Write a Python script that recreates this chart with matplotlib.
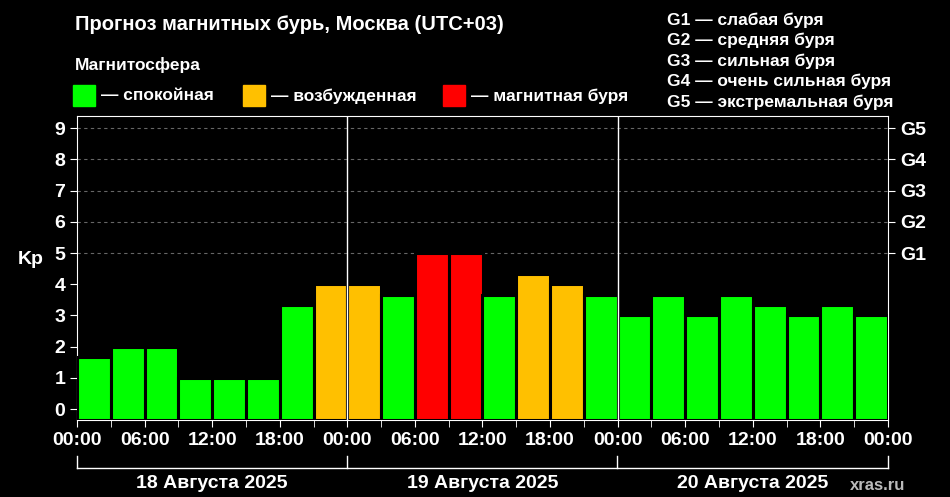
import matplotlib
matplotlib.use("Agg")
import matplotlib.pyplot as plt
from matplotlib.patches import Rectangle

kp = [1.67, 2, 2, 1, 1, 1, 3.33, 4,
      4, 3.67, 5, 5, 3.67, 4.33, 4, 3.67,
      3, 3.67, 3, 3.67, 3.33, 3, 3.33, 3]
tick_labels = ["00:00", "06:00", "12:00", "18:00"] * 3 + ["00:00"]
days = ["18 Августа 2025", "19 Августа 2025", "20 Августа 2025"]
g_labels = ["G1", "G2", "G3", "G4", "G5"]
g_legend = ["G1 — слабая буря", "G2 — средняя буря", "G3 — сильная буря",
            "G4 — очень сильная буря", "G5 — экстремальная буря"]
GREEN, ORANGE, RED = "#00ff00", "#ffc000", "#ff0000"

def color(v):
    if v >= 5: return RED
    if v >= 4: return ORANGE
    return GREEN

plt.rcParams['font.family'] = ['Liberation Sans', 'DejaVu Sans']
fig = plt.figure(figsize=(9.5, 4.97), dpi=100, facecolor="black")
W, H = 950, 497
ax = fig.add_axes([77/W, 1-420/H, (888-77)/W, (420-116)/H], facecolor="black")
ymin, ymax = -0.35, 9.39
x = [1.5 + 3*i for i in range(len(kp))]
ax.bar(x, [v - ymin for v in kp], bottom=ymin, width=3, color=[color(v) for v in kp],
       edgecolor="black", linewidth=2.2, zorder=3)
for y in range(5, 10):
    ax.axhline(y, color="#666666", ls=(0, (3, 3)), lw=0.8, zorder=1)
for xd in (24, 48):
    ax.axvline(xd, color="white", lw=1, zorder=4)
ax.set_xlim(0, 72)
ax.set_ylim(ymin, ymax)
ax.set_xticks(range(0, 73, 6))
ax.set_xticklabels(tick_labels, color="white", fontsize=14, fontweight="bold")
ax.set_xticks(range(0, 73, 3), minor=True)
ax.set_yticks(range(10))
ax.set_yticklabels([str(i) for i in range(10)], color="white", fontsize=14, fontweight="bold")
ax.tick_params(colors="white", which="both", length=5)
ax.tick_params(axis="y", right=True)
for s in ax.spines.values():
    s.set_color("white")
ax.set_ylabel("Kp", color="white", fontsize=14, fontweight="bold", rotation=0, labelpad=17)
ax2 = ax.twinx()
ax2.set_ylim(ymin, ymax)
ax2.set_yticks(range(5, 10))
ax2.set_yticklabels(g_labels, color="white", fontsize=14, fontweight="bold")
ax2.tick_params(colors="white", length=5)
for s in ax2.spines.values():
    s.set_visible(False)

def fx(px): return px / W
def fy(py): return 1 - py / H
fig.add_artist(plt.Line2D([fx(77), fx(888)], [fy(468), fy(468)], color="white", lw=1))
for px in [77, 347, 617, 888]:
    fig.add_artist(plt.Line2D([fx(px), fx(px)], [fy(468), fy(456)], color="white", lw=1))
for i, d in enumerate(days):
    cx = 77 + (888-77)/3*(i+0.5)
    fig.text(fx(cx), fy(484), d, color="white", fontsize=14, fontweight="bold", ha="center", va="center")
fig.text(fx(905), fy(486), "xras.ru", color="#bbbbbb", fontsize=12, fontweight="bold", ha="right", va="center")

fig.text(fx(75), fy(25), "Прогноз магнитных бурь, Москва (UTC+03)", color="white",
         fontsize=14.5, fontweight="bold", va="center")
fig.text(fx(75), fy(65), "Магнитосфера", color="white", fontsize=12.5, fontweight="bold", va="center")
for px, c, t in [(73, GREEN, "— спокойная"), (243, ORANGE, "— возбужденная"), (443, RED, "— магнитная буря")]:
    fig.add_artist(Rectangle((fx(px), fy(106)), 22/W, 21/H, color=c, transform=fig.transFigure))
    fig.text(fx(px+28), fy(96), t, color="white", fontsize=12.5, fontweight="bold", va="center")
for i, t in enumerate(g_legend):
    fig.text(fx(667), fy(20 + 20.5*i), t, color="white", fontsize=12.5, fontweight="bold", va="center")

fig.savefig("out.png", dpi=100, facecolor="black")
